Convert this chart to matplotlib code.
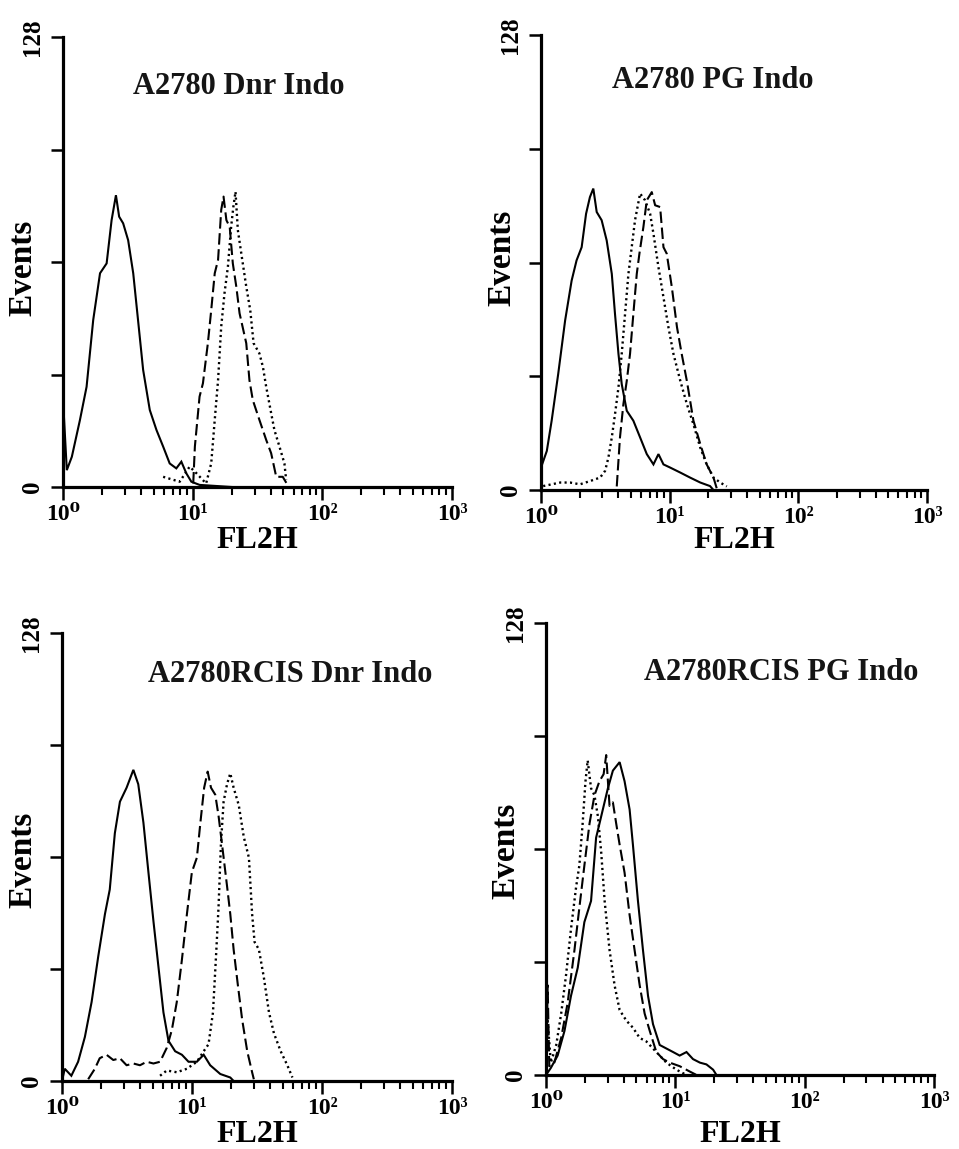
import matplotlib
matplotlib.use("Agg")
import matplotlib.pyplot as plt
from matplotlib.ticker import FixedLocator, NullFormatter

plt.rcParams['font.family'] = ['Liberation Serif', 'DejaVu Serif']
plt.rcParams['font.weight'] = 'bold'

W, H = 959, 1149

titles = ["A2780 Dnr Indo", "A2780 PG Indo", "A2780RCIS Dnr Indo", "A2780RCIS PG Indo"]
x_label = "FL2H"
y_label = "Events"
x_tick_vals = [1, 10, 100, 1000]
x_tick_labels = ["10\u2070", "10\u00b9", "10\u00b2", "10\u00b3"]
y_tick_vals = [0, 32, 64, 96, 128]
y_tick_labels = ["0", "", "", "", "128"]

# ---- Panel 1: A2780 Dnr Indo ----
p1_solid_x = [1.0, 1.0, 1.07, 1.17, 1.35, 1.52, 1.71, 1.93, 2.17, 2.37, 2.56, 2.71, 2.91, 3.18, 3.48,
              3.79, 4.15, 4.67, 5.26, 5.92, 6.65, 7.48, 8.18, 8.93, 9.77, 11.3, 20.0]
p1_solid_y = [0, 25, 4.8, 8.6, 19, 28.5, 47.5, 60.8, 63.6, 75.9, 83.0, 76.9, 75, 70.2, 60.8,
              47.5, 33.3, 21.9, 16.2, 11.5, 6.7, 5.3, 7.2, 3.9, 1.5, 0.6, 0]
p1_dash_x = [10.1, 10.4, 11.3, 12.0, 13.1, 13.9, 14.8, 15.7, 16.6, 17.3, 18.2, 19.3, 20.4, 21.7,
             23.0, 25.9, 27.4, 29.1, 32.7, 36.9, 40.3, 44.1, 49.5, 54.1]
p1_dash_y = [1.0, 11.5, 25.7, 29.5, 40.9, 50.3, 60.8, 64.6, 78.8, 82.6, 75.9, 74, 63.6, 57,
             49.4, 40.9, 30.4, 24.7, 19.1, 13.4, 9.6, 2.9, 2.9, 0.5]
p1_dot_x = [5.92, 7.94, 9.48, 10.7, 12.7, 13.9, 14.8, 15.7, 16.6, 17.6, 18.7, 19.8, 20.6, 21.4,
            22.3, 23.7, 25.9, 27.8, 29.5, 32.7, 34.8, 36.9, 40.3, 42.7, 46.7, 51.0, 52.6]
p1_dot_y = [2.9, 1.5, 5.8, 3.9, 1.0, 6.7, 19.1, 30.4, 45.6, 55.1, 62.7, 74, 79.7, 84.0,
            73.1, 66.5, 57, 50.3, 40.9, 38, 34.2, 28.5, 21, 16.2, 11.5, 6.7, 2]

# ---- Panel 2: A2780 PG Indo ----
p2_solid_x = [1.0, 1.0, 1.11, 1.21, 1.36, 1.54, 1.73, 1.89, 2.07, 2.24, 2.40, 2.55, 2.71, 2.96, 3.24,
              3.55, 3.76, 4.00, 4.24, 4.64, 5.22, 5.89, 6.64, 7.48, 8.18, 8.95, 10.1, 12.1, 14.4,
              17.3, 20.6, 21.9]
p2_solid_y = [0, 6.3, 11, 19.5, 32.6, 47.7, 58.9, 64.6, 68.3, 77.7, 82.4, 84.8, 78.2, 75.9, 70.2,
              60.8, 49.5, 38.3, 29.8, 22.3, 19.5, 14.8, 10.1, 7.2, 10.1, 7.2, 6.3, 4.9, 3.5,
              2.1, 1.1, 0]
p2_dot_x = [1.04, 1.41, 1.68, 2.01, 2.40, 2.88, 3.15, 3.34, 3.55, 3.76, 4.00, 4.24, 4.50, 4.78,
            5.07, 5.38, 5.89, 6.44, 7.05, 7.48, 8.18, 8.95, 9.78, 10.7, 12.1, 13.6, 15.3, 17.3,
            19.4, 21.9, 24.7, 27.8]
p2_dot_y = [1.1, 2.1, 2.1, 1.6, 2.5, 3.5, 5.4, 9.1, 14.8, 21.3, 28.9, 38.3, 49.5, 60.8,
            68.3, 75.9, 83.4, 81.5, 77.7, 72.1, 62.7, 54.2, 45.8, 38.3, 30.7, 24.2, 18.5, 11.9,
            7.2, 3.5, 2.1, 1.0]
p2_dash_x = [3.88, 4.11, 4.37, 4.64, 4.92, 5.22, 5.55, 5.82, 6.25, 6.64, 7.26, 7.71, 8.43, 8.95,
             9.49, 10.4, 11.4, 12.4, 13.6, 15.3, 17.3, 19.4, 21.9, 23.2]
p2_dash_y = [1.0, 14.8, 24.2, 30.7, 38.3, 49.5, 60.8, 66.5, 74, 81.5, 83.8, 80.1, 79.6, 68.3,
             66.5, 57, 45.8, 38.3, 30.7, 19.5, 12.9, 7.2, 3.5, 0.5]

# ---- Panel 3: A2780RCIS Dnr Indo ----
p3_solid_x = [1.0, 1.05, 1.18, 1.33, 1.50, 1.69, 1.90, 2.14, 2.33, 2.55, 2.79, 3.14, 3.54, 3.86,
              4.23, 4.62, 5.05, 5.52, 6.03, 6.59, 7.42, 8.36, 9.40, 10.9, 12.3, 13.8, 16.5, 19.7, 20.9]
p3_solid_y = [0, 3.5, 1.5, 5.5, 12.6, 22.6, 35.6, 47.7, 54.7, 70.8, 79.8, 83.8, 88.9, 84.8,
              73.8, 59.7, 45.7, 32.6, 19.6, 11.5, 8.5, 7.5, 5.5, 5.5, 7.5, 4.5, 2.0, 1.0, 0]
p3_dash_x = [1.59, 1.79, 1.95, 2.20, 2.48, 2.79, 3.14, 3.54, 3.98, 4.48, 5.05, 5.68, 6.40, 7.00,
             7.64, 8.36, 9.14, 9.98, 10.9, 11.6, 12.4, 13.2, 14.0, 15.1, 16.0, 17.0, 18.6, 19.7,
             20.9, 22.5, 24.3, 26.6, 29.0, 29.9]
p3_dash_y = [0.5, 3.5, 6.5, 7.5, 6.0, 6.5, 4.5, 5.0, 4.5, 5.5, 5.0, 5.5, 9.5, 14.6,
             22.6, 34.6, 47.7, 59.7, 63.8, 73.8, 83.8, 88.4, 83.8, 81.8, 75.8, 67.8, 55.7, 47.7,
             37.6, 27.6, 17.6, 8.5, 2.5, 0.5]
p3_dot_x = [5.68, 6.40, 7.64, 9.14, 10.9, 12.3, 13.4, 14.5, 15.4, 16.0, 16.7, 17.5, 18.6, 19.7,
            20.9, 22.9, 25.0, 27.4, 29.0, 30.3, 32.7, 35.7, 39.1, 42.7, 48.1, 54.1, 59.2]
p3_dot_y = [1.5, 3.0, 2.5, 3.5, 5.5, 8.5, 10.5, 19.6, 37.6, 49.7, 67.8, 79.8, 84.8, 87.9,
            83.8, 78.8, 69.8, 63.8, 47.7, 39.7, 37.6, 29.6, 19.6, 13.6, 8.5, 4.5, 1.0]

# ---- Panel 4: A2780RCIS PG Indo ----
p4_solid_x = [1.0, 1.09, 1.23, 1.39, 1.56, 1.76, 1.98, 2.23, 2.44, 2.67, 3.01, 3.29, 3.71, 4.05,
              4.43, 4.70, 5.14, 5.62, 6.15, 6.72, 7.57, 8.53, 9.61, 10.8, 12.2, 13.7, 15.5, 17.4,
              19.6, 20.8]
p4_solid_y = [0, 2.0, 5.5, 12.5, 22.4, 30.4, 43.3, 49.3, 67.2, 73.2, 81.2, 86.2, 88.6, 83.2,
              75.2, 65.2, 49.3, 35.4, 22.4, 14.4, 8.5, 7.5, 6.5, 5.5, 6.5, 4.5, 3.5, 3.0,
              1.5, 0]
p4_dash_x = [1.0, 1.03, 1.06, 1.16, 1.31, 1.47, 1.66, 1.81, 1.98, 2.17, 2.37, 2.59, 2.79, 2.92,
             3.10, 3.29, 3.49, 3.71, 4.05, 4.43, 4.84, 5.30, 5.79, 6.34, 7.13, 8.04, 9.05, 10.8,
             12.9, 14.6]
p4_dash_y = [0, 25.4, 2.5, 3.5, 10.5, 20.4, 35.4, 47.3, 59.3, 71.2, 79.2, 83.2, 85.2, 90.6,
             76.2, 77.2, 71.2, 65.2, 57.3, 45.3, 35.4, 25.4, 17.4, 12.5, 6.5, 4.5, 3.5, 2.5,
             1.0, 0]
p4_dot_x = [1.0, 1.03, 1.09, 1.20, 1.31, 1.43, 1.56, 1.71, 1.81, 1.92, 2.02, 2.10, 2.23, 2.37,
            2.52, 2.67, 2.84, 3.10, 3.39, 3.71, 4.18, 4.70, 5.30, 5.97, 6.72, 7.57, 8.53, 10.2, 12.2]
p4_dot_y = [0, 15.4, 3.5, 8.5, 17.4, 28.4, 41.3, 53.3, 59.3, 71.2, 83.2, 89.1, 81.2, 79.2,
            73.2, 63.2, 49.3, 35.4, 25.4, 18.4, 15.4, 13.4, 10.5, 9.5, 7.5, 5.5, 3.5, 1.5, 0]

panels = [
    dict(solid=(p1_solid_x, p1_solid_y), dash=(p1_dash_x, p1_dash_y), dot=(p1_dot_x, p1_dot_y)),
    dict(solid=(p2_solid_x, p2_solid_y), dash=(p2_dash_x, p2_dash_y), dot=(p2_dot_x, p2_dot_y)),
    dict(solid=(p3_solid_x, p3_solid_y), dash=(p3_dash_x, p3_dash_y), dot=(p3_dot_x, p3_dot_y)),
    dict(solid=(p4_solid_x, p4_solid_y), dash=(p4_dash_x, p4_dash_y), dot=(p4_dot_x, p4_dot_y)),
]

# axes boxes in pixels: left, top, right, bottom
boxes = [(63, 37, 452, 487), (541, 35, 927, 490), (62, 633, 452, 1081), (546, 623, 934, 1075)]
title_pos = [(239, 87), (713, 80), (290, 675), (781, 672)]
xlabel_pos = [(257, 540), (734, 540), (257, 1135), (740, 1135)]
ylabel_pos = [(23, 268), (502, 258), (23, 860), (506, 851)]

fig = plt.figure(figsize=(W / 100, H / 100), dpi=100)

minor_vals = [m * 10 ** d for d in range(3) for m in range(2, 10)]

for i, (pdata, box) in enumerate(zip(panels, boxes)):
    l, t, r, b = box
    ax = fig.add_axes([l / W, 1 - b / H, (r - l) / W, (b - t) / H])
    ax.plot(*pdata['solid'], color='black', lw=1.5, solid_joinstyle='miter')
    ax.plot(*pdata['dash'], color='black', lw=1.5, linestyle=(0, (5.5, 2.2)))
    ax.plot(*pdata['dot'], color='black', lw=1.7, linestyle=(0, (0.9, 1.4)))
    ax.set_xscale('log')
    ax.set_xlim(1, 1000)
    ax.set_ylim(0, 128)
    ax.xaxis.set_major_locator(FixedLocator(x_tick_vals))
    ax.set_xticklabels(x_tick_labels)
    ax.xaxis.set_minor_locator(FixedLocator(minor_vals))
    ax.xaxis.set_minor_formatter(NullFormatter())
    ax.set_yticks(y_tick_vals)
    ax.set_yticklabels(y_tick_labels, rotation=90, va='center')
    for s in ['top', 'right']:
        ax.spines[s].set_visible(False)
    for s in ['left', 'bottom']:
        ax.spines[s].set_linewidth(2.3)
    ax.tick_params(axis='both', which='major', length=9, width=1.8, direction='out',
                   labelsize=17, pad=3, color='black')
    ax.tick_params(axis='y', which='major', pad=5, labelsize=18)
    ax.tick_params(axis='x', which='minor', length=6, width=1.5, direction='out')
    for lab in ax.get_xticklabels() + ax.get_yticklabels():
        lab.set_fontweight('bold')
    ax.patch.set_alpha(0)

    tx, ty = title_pos[i]
    fig.text(tx / W, 1 - ty / H, titles[i], ha='center', va='center', fontsize=22,
             fontweight='bold', color='#151515')
    xx, xy = xlabel_pos[i]
    fig.text(xx / W, 1 - xy / H, x_label, ha='center', va='center', fontsize=23, fontweight='bold')
    yx, yy = ylabel_pos[i]
    fig.text(yx / W, 1 - yy / H, y_label, ha='center', va='center', fontsize=24,
             fontweight='bold', rotation=90)

fig.savefig('out.png', dpi=100)
